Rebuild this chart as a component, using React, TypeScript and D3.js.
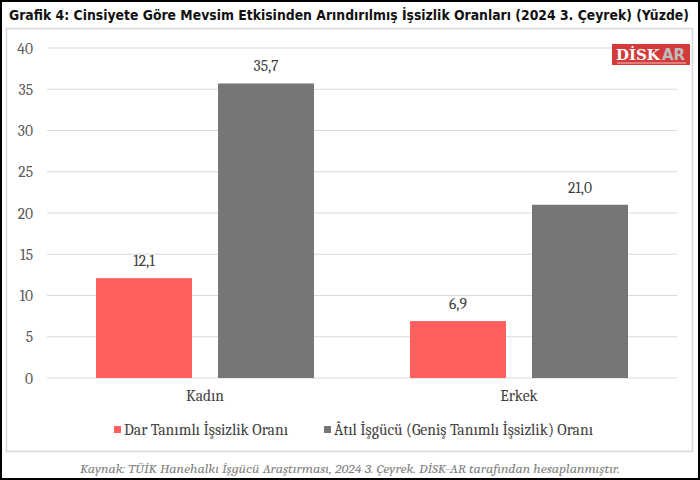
import React from "react";
import * as d3 from "d3";

const categories = ["Kadın", "Erkek"];
const seriesNames = ["Dar Tanımlı İşsizlik Oranı", "Âtıl İşgücü (Geniş Tanımlı İşsizlik) Oranı"];
const darValues = [12.1, 6.9];
const atilValues = [35.7, 21.0];
const yTicks = [0, 5, 10, 15, 20, 25, 30, 35, 40];
const colors = ["#FF5F5F", "#767676"];
const title = "Grafik 4: Cinsiyete Göre Mevsim Etkisinden Arındırılmış İşsizlik Oranları (2024 3. Çeyrek) (Yüzde)";
const source = "Kaynak: TÜİK Hanehalkı İşgücü Araştırması, 2024 3. Çeyrek. DİSK-AR tarafından hesaplanmıştır.";

const serif = "Cambria, 'DejaVu Serif', serif";

export default function App() {
  const W = 700, H = 480;
  const left = 47, right = 677, top = 48, bottom = 378;
  const x0 = d3.scaleBand().domain(categories).range([left, right]).paddingInner(96 / 314).paddingOuter(49 / 314);
  const x1 = d3.scaleBand().domain(["0", "1"]).range([0, x0.bandwidth()]).paddingInner(26 / 122);
  const y = d3.scaleLinear().domain([0, 40]).range([bottom, top]);
  const series = [darValues, atilValues];
  const fmt = (v: number) => v.toFixed(1).replace(".", ",");

  return (
    <svg width={W} height={H} style={{ position: "absolute", left: 0, top: 0, display: "block" }}>
      <rect x={0} y={0} width={W} height={H} fill="#fff" />
      <rect x={1} y={1} width={W - 2} height={H - 2} fill="none" stroke="#000" strokeWidth={2} />
      <text x={9} y={20} fontFamily="'Liberation Sans Narrow', 'DejaVu Sans Condensed', 'DejaVu Sans', sans-serif" fontWeight="bold" fontSize={14} fill="#111" textLength={680} lengthAdjust="spacingAndGlyphs">{title}</text>
      <rect x={6.5} y={28.5} width={686} height={423} fill="#fff" stroke="#d9d9d9" strokeWidth={1.5} />
      {yTicks.map((t) => (
        <g key={t}>
          <line x1={left} x2={right} y1={y(t)} y2={y(t)} stroke="#d9d9d9" strokeWidth={1} />
          <text x={33} y={y(t) + 5.5} textAnchor="end" fontFamily={serif} fontSize={15.5} fill="#595959">{t}</text>
        </g>
      ))}
      {categories.map((c, i) => (
        <g key={c}>
          {series.map((vals, s) => {
            const bx = (x0(c) ?? 0) + (x1(String(s)) ?? 0);
            const bw = x1.bandwidth();
            return (
              <g key={s}>
                <rect x={bx} y={y(vals[i])} width={bw} height={y(0) - y(vals[i])} fill={colors[s]} />
                <text x={bx + bw / 2} y={y(vals[i]) - 12} textAnchor="middle" fontFamily={serif} fontSize={15.5} fill="#404040">{fmt(vals[i])}</text>
              </g>
            );
          })}
          <text x={(x0(c) ?? 0) + x0.bandwidth() / 2} y={401} textAnchor="middle" fontFamily={serif} fontSize={15.5} fill="#404040">{c}</text>
        </g>
      ))}
      <rect x={114} y={426} width={7} height={7} fill={colors[0]} />
      <text x={124} y={435} fontFamily={serif} fontSize={15.5} fill="#404040" textLength={164} lengthAdjust="spacingAndGlyphs">{seriesNames[0]}</text>
      <rect x={324} y={426} width={7} height={7} fill={colors[1]} />
      <text x={334} y={435} fontFamily={serif} fontSize={15.5} fill="#404040" textLength={259} lengthAdjust="spacingAndGlyphs">{seriesNames[1]}</text>
      <text x={350} y={473} textAnchor="middle" fontFamily={serif} fontStyle="italic" fontSize={12.5} fill="#7f7f7f" textLength={540} lengthAdjust="spacingAndGlyphs">{source}</text>
      <g>
        <rect x={612} y={44} width={78} height={21} fill="#D33A3A" />
        <text x={616} y={60} fontFamily="'DejaVu Serif', serif" fontWeight="bold" fontSize={15} fill="#fff">DİSK</text>
        <text x={662} y={60} fontFamily="'DejaVu Sans', sans-serif" fontWeight="bold" fontSize={15} fill="#bdbdbd">AR</text>
        <line x1={617} x2={686} y1={63} y2={63} stroke="#f3c0c0" strokeWidth={1} />
      </g>
    </svg>
  );
}
